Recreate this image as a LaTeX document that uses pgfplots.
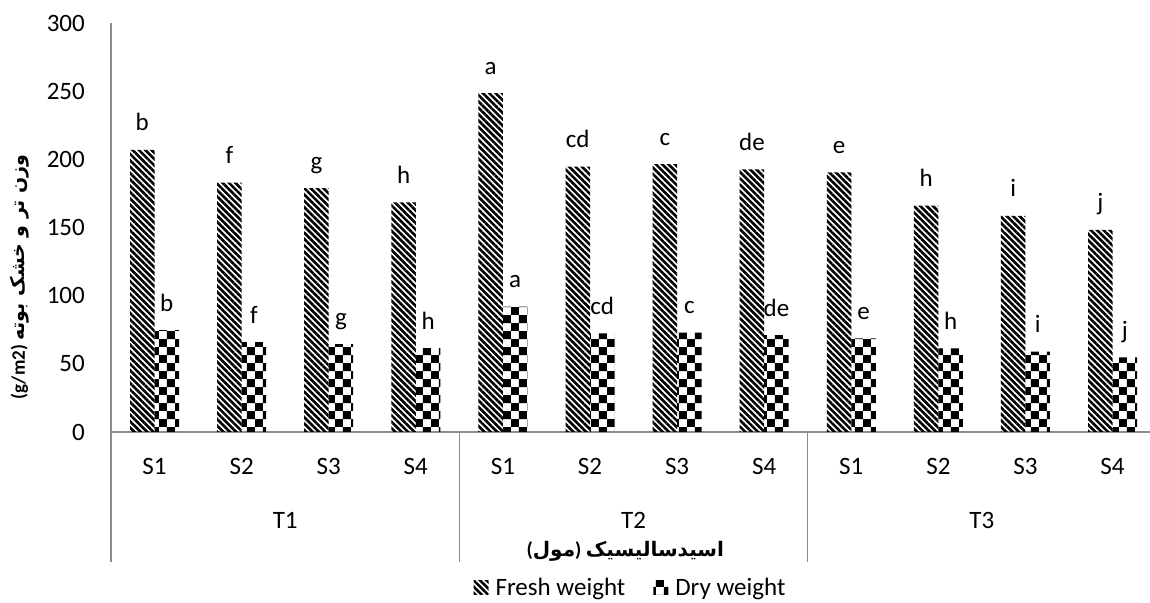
\documentclass[border=0pt]{standalone}
\usepackage{fontspec}
\setmainfont{Carlito}
\newfontfamily\arabicfont[Script=Arabic]{DejaVu Sans}
\TeXXeTstate=1
\usepackage{pgfplots}
\usepackage{pgfplotstable}
\pgfplotsset{compat=1.18}
\usetikzlibrary{patterns,patterns.meta}
\definecolor{axgray}{RGB}{140,140,140}
\pgfdeclarepatternformonly{bigchecker}{\pgfpointorigin}{\pgfqpoint{16pt}{16pt}}{\pgfqpoint{16pt}{16pt}}{%
  \pgfpathrectangle{\pgfpointorigin}{\pgfqpoint{8pt}{8pt}}%
  \pgfpathrectangle{\pgfqpoint{8pt}{8pt}}{\pgfqpoint{8pt}{8pt}}%
  \pgfusepath{fill}}
\newcommand{\bigfont}{\fontsize{25}{30}\selectfont}
\pgfplotstableread{
x fresh dry lf ld
0  206.9 74.8 b  b
1  182.9 66.0 f  f
2  178.8 64.5 g  g
3  168.5 61.6 h  h
4  248.5 92.0 a  a
5  194.6 72.4 cd cd
6  196.4 72.9 c  c
7  192.7 71.0 de de
8  190.5 68.7 e  e
9  166.0 61.4 h  h
10 158.5 58.9 i  i
11 148.2 54.8 j  j
}\datatable
\begin{document}
\begin{tikzpicture}
\begin{axis}[
  name=ax,
  scale only axis, width=1039pt, height=409pt,
  ybar=0pt, bar width=24.5pt,
  xmin=-0.5, xmax=11.43, ymin=0, ymax=300,
  ytick={0,50,...,300},
  xtick={0,...,11},
  xticklabels={S1,S2,S3,S4,S1,S2,S3,S4,S1,S2,S3,S4},
  axis lines*=left,
  axis line style={draw=axgray, line width=1.3pt},
  major tick length=0pt,
  tick style={draw=none},
  ticklabel style={font=\bigfont},
  /pgf/number format/assume math mode=true,
  yticklabel style={anchor=east, inner sep=0pt, xshift=-26pt},
  xticklabel style={anchor=north, inner sep=0pt, yshift=-26pt},
  clip=false,
  nodes near coords,
  point meta=explicit symbolic,
  every node near coord/.append style={font=\bigfont, anchor=base, inner sep=0pt, yshift=19pt, black},
  legend style={draw=none, at={(0.5,0)}, anchor=center, yshift=-156pt, font=\bigfont,
    legend columns=2,
    /tikz/every even column/.append style={column sep=26pt},
    /tikz/every odd column/.append style={column sep=5pt}},
  legend image code/.code={\fill[#1] (0pt,-7pt) rectangle (15pt,7pt);},
]
\addplot[draw=none, pattern={Lines[angle=-45,distance=4.5pt,line width=2.6pt]}, pattern color=black]
  table[x=x, y=fresh, meta=lf] {\datatable};
\addlegendentry{Fresh weight}
\addplot[draw=none, pattern=bigchecker, pattern color=black]
  table[x=x, y=dry, meta=ld] {\datatable};
\addlegendentry{Dry weight}
\draw[axgray, line width=1.3pt] (axis cs:-0.5,0) -- ++(0pt,-130pt);
\draw[axgray, line width=1.3pt] (axis cs:3.5,0) -- ++(0pt,-130pt);
\draw[axgray, line width=1.3pt] (axis cs:7.5,0) -- ++(0pt,-130pt);
\node[font=\bigfont] at ([yshift=-88pt]axis cs:1.5,0) {T1};
\node[font=\bigfont] at ([yshift=-88pt]axis cs:5.5,0) {T2};
\node[font=\bigfont] at ([yshift=-88pt]axis cs:9.5,0) {T3};
\node[font=\fontsize{20}{24}\selectfont] at ([yshift=-119pt]rel axis cs:0.495,0)
  {{\bfseries(}{\arabicfont\bfseries مول}{\bfseries)} {\arabicfont\bfseries اسیدسالیسیک}};
\node[rotate=90, font=\fontsize{19}{22}\selectfont] at ([xshift=-91pt,yshift=155pt]rel axis cs:0,0)
  {{\bfseries (g/m2)} {\arabicfont\bfseries\beginR وزن تر و خشک بوته\endR}};
\end{axis}
\pgfresetboundingbox
\path[use as bounding box] ([shift={(-111pt,-171pt)}]ax.south west) rectangle ([shift={(0pt,23pt)}]ax.north east);
\end{tikzpicture}
\end{document}
